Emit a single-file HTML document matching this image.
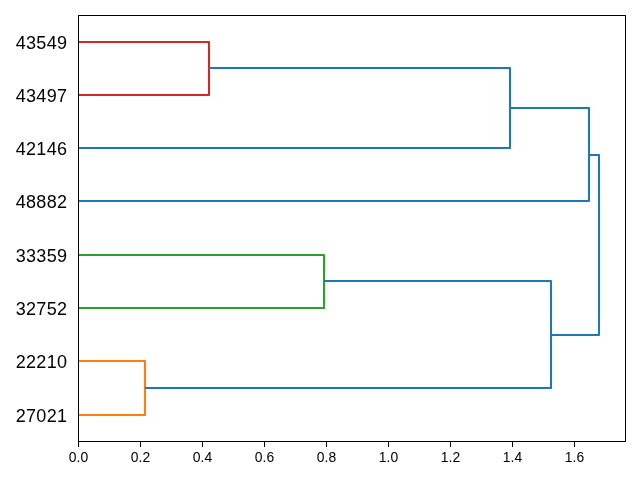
<!DOCTYPE html>
<html><head><meta charset="utf-8"><style>
html,body{margin:0;padding:0;background:#fff;}
svg{display:block;will-change:transform;}
.yl{font-family:"Liberation Sans",sans-serif;font-size:18px;letter-spacing:0.3px;text-anchor:end;fill:#000;}
.xl{font-family:"Liberation Sans",sans-serif;font-size:13.9px;text-anchor:middle;fill:#000;}
</style></head><body>
<svg width="640" height="480" viewBox="0 0 640 480">
<rect width="640" height="480" fill="#fff"/>
<defs><clipPath id="ax"><rect x="78" y="15" width="548" height="427"/></clipPath></defs>
<g clip-path="url(#ax)" fill="none" stroke-width="2.08" stroke-linejoin="round" stroke-linecap="butt">
<path d="M78,42 L209,42 L209,95 L78,95" stroke="#d62728"/>
<path d="M209,68 L510,68 L510,148 L78,148" stroke="#1f77b4"/>
<path d="M510,108 L589,108 L589,201 L78,201" stroke="#1f77b4"/>
<path d="M78,255 L324,255 L324,308 L78,308" stroke="#2ca02c"/>
<path d="M78,361 L145,361 L145,415 L78,415" stroke="#ff7f0e"/>
<path d="M324,281 L551,281 L551,388 L145,388" stroke="#1f77b4"/>
<path d="M589,155 L599,155 L599,335 L551,335" stroke="#1f77b4"/>
</g>
<rect x="78" y="15" width="1" height="427" fill="#000"/>
<rect x="625" y="15" width="1" height="427" fill="#000"/>
<rect x="78" y="15" width="548" height="1" fill="#000"/>
<rect x="78" y="441" width="548" height="1" fill="#000"/>
<rect x="78" y="442" width="1" height="5" fill="#000"/>
<rect x="140" y="442" width="1" height="5" fill="#000"/>
<rect x="202" y="442" width="1" height="5" fill="#000"/>
<rect x="264" y="442" width="1" height="5" fill="#000"/>
<rect x="326" y="442" width="1" height="5" fill="#000"/>
<rect x="388" y="442" width="1" height="5" fill="#000"/>
<rect x="450" y="442" width="1" height="5" fill="#000"/>
<rect x="512" y="442" width="1" height="5" fill="#000"/>
<rect x="574" y="442" width="1" height="5" fill="#000"/>
<text x="67.3" y="48.5" class="yl">43549</text>
<text x="67.3" y="101.5" class="yl">43497</text>
<text x="67.3" y="154.5" class="yl">42146</text>
<text x="67.3" y="207.5" class="yl">48882</text>
<text x="67.3" y="261.5" class="yl">33359</text>
<text x="67.3" y="314.5" class="yl">32752</text>
<text x="67.3" y="367.5" class="yl">22210</text>
<text x="67.3" y="421.5" class="yl">27021</text>
<text x="78.5" y="462" class="xl">0.0</text>
<text x="140.5" y="462" class="xl">0.2</text>
<text x="202.5" y="462" class="xl">0.4</text>
<text x="264.5" y="462" class="xl">0.6</text>
<text x="326.5" y="462" class="xl">0.8</text>
<text x="388.5" y="462" class="xl">1.0</text>
<text x="450.5" y="462" class="xl">1.2</text>
<text x="512.5" y="462" class="xl">1.4</text>
<text x="574.5" y="462" class="xl">1.6</text>
</svg>
</body></html>
